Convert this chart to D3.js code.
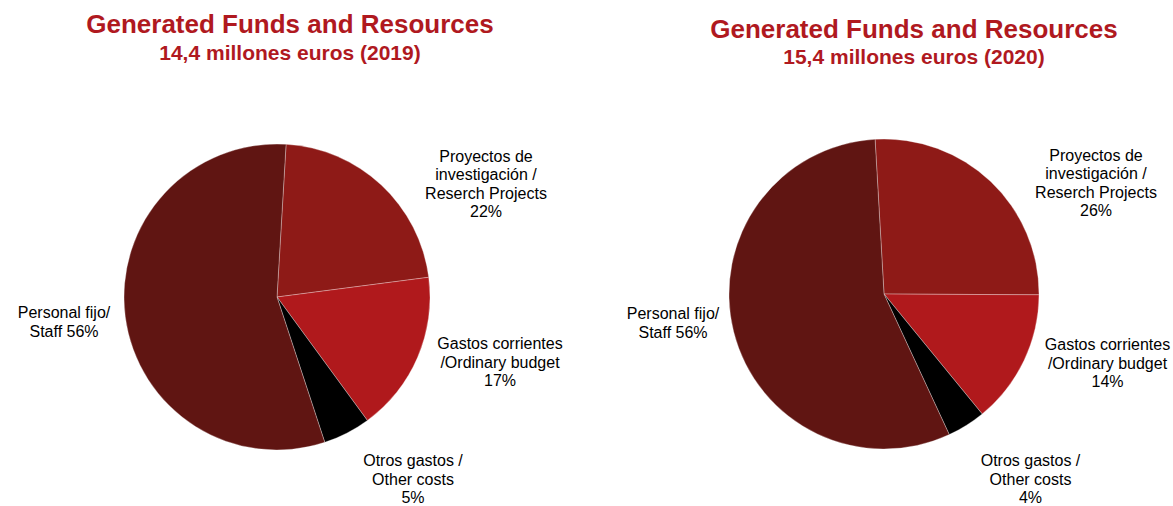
<!DOCTYPE html>
<html>
<head>
<meta charset="utf-8">
<script src="https://cdn.jsdelivr.net/npm/d3@7"></script>
<style>
  html, body { margin: 0; padding: 0; background: #fff; }
  svg { display: block; font-family: "Liberation Sans", Arial, sans-serif; }
</style>
</head>
<body>
<svg id="chart" width="1173" height="506"></svg>
<script>
// Budget breakdown, two years
const categories = [
  ["Proyectos de", "investigación /", "Reserch Projects"],
  ["Gastos corrientes", "/Ordinary budget"],
  ["Otros gastos /", "Other costs"],
  ["Personal fijo/", "Staff"]
];
const titles = ["Generated Funds and Resources", "Generated Funds and Resources"];
const subtitles = ["14,4 millones euros (2019)", "15,4 millones euros (2020)"];
const values2019 = [22, 17, 5, 56];
const values2020 = [26, 14, 4, 56];

const colors = ["#8e1a17", "#b0191c", "#000000", "#601512"];

// Layout for each pie: centre, radius, first-slice rotation and label anchors
const panels = [
  {
    values: values2019, title: titles[0], subtitle: subtitles[0],
    cx: 277, cy: 297, r: 153, start: 3.4,
    titleX: 290, titleY: 33, subY: 60,
    labels: [[209, -113], [223, 65], [136, 182], [-213, 25]]
  },
  {
    values: values2020, title: titles[1], subtitle: subtitles[1],
    cx: 884, cy: 294, r: 155, start: -3.3,
    titleX: 914, titleY: 38, subY: 64,
    labels: [[212, -111], [223.5, 69], [146.5, 185], [-211, 29]]
  }
];

const svg = d3.select("#chart");
const lineH = 18.5;

panels.forEach(p => {
  const g = svg.append("g");

  g.append("text")
    .attr("x", p.titleX).attr("y", p.titleY)
    .attr("text-anchor", "middle")
    .attr("font-size", 26).attr("font-weight", "bold")
    .attr("fill", "#b0191f")
    .text(p.title);
  g.append("text")
    .attr("x", p.titleX).attr("y", p.subY)
    .attr("text-anchor", "middle")
    .attr("font-size", 21).attr("font-weight", "bold")
    .attr("fill", "#b0191f")
    .text(p.subtitle);

  const a0 = p.start * Math.PI / 180;
  const pie = d3.pie().sort(null).startAngle(a0).endAngle(a0 + 2 * Math.PI);
  const arc = d3.arc().innerRadius(0).outerRadius(p.r);
  const arcs = pie(p.values);

  const pg = g.append("g").attr("transform", `translate(${p.cx},${p.cy})`);
  pg.selectAll("path").data(arcs).join("path")
    .attr("d", arc)
    .attr("fill", (d, i) => colors[i])
    .attr("stroke", "#ffffff")
    .attr("stroke-width", 0.5)
    .attr("stroke-opacity", 0.6);

  // Data labels: category lines followed by the percentage
  arcs.forEach((d, i) => {
    const lines = categories[i].slice();
    if (i === 3) {
      lines[lines.length - 1] = lines[lines.length - 1] + " " + d.data + "%";
    } else {
      lines.push(d.data + "%");
    }
    const [ox, oy] = p.labels[i];
    const n = lines.length;
    const t = pg.append("text")
      .attr("text-anchor", "middle")
      .attr("font-size", 16)
      .attr("fill", "#000");
    lines.forEach((ln, k) => {
      t.append("tspan")
        .attr("x", ox)
        .attr("y", oy + (k - (n - 1) / 2) * lineH + 5.5)
        .text(ln);
    });
  });
});
</script>
</body>
</html>
